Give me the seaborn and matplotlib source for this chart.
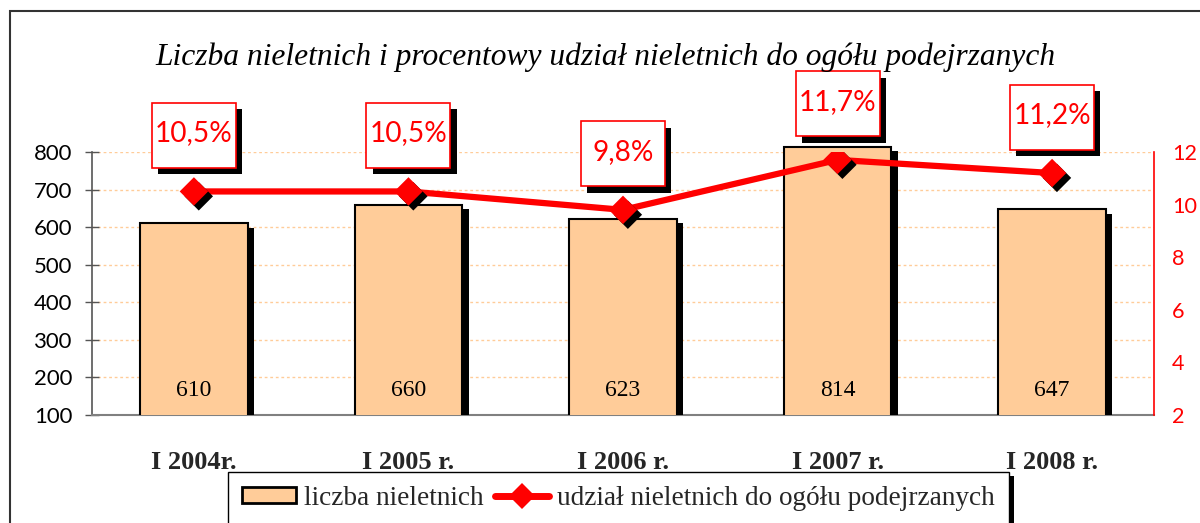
import numpy as np
import pandas as pd
import matplotlib
matplotlib.use("Agg")
import matplotlib.pyplot as plt
import matplotlib.patheffects as pe
import matplotlib.font_manager as fm
from matplotlib.patches import Patch, Rectangle
from matplotlib.lines import Line2D
from matplotlib.path import Path
import seaborn as sns

# ---------------- data ----------------
title = "Liczba nieletnich i procentowy udział nieletnich do ogółu podejrzanych"
categories = ["I 2004r.", "I 2005 r.", "I 2006 r.", "I 2007 r.", "I 2008 r."]
counts = [610, 660, 623, 814, 647]
shares = [10.5, 10.5, 9.8, 11.7, 11.2]
share_labels = ["10,5%", "10,5%", "9,8%", "11,7%", "11,2%"]
left_ticks = [100, 200, 300, 400, 500, 600, 700, 800]
right_ticks = [2, 4, 6, 8, 10, 12]
series_names = ["liczba nieletnich", "udział nieletnich do ogółu podejrzanych"]

BAR = "#FFCC99"
RED = "#FF0000"

sns.set_theme(style="white")
names = {f.name for f in fm.fontManager.ttflist}
if "Liberation Sans Narrow" in names:
    SANS, SANS_SCALE = "Liberation Sans Narrow", 1.0
else:
    SANS, SANS_SCALE = "Lato", 0.84
SERIF = "Liberation Serif"
plt.rcParams["font.family"] = [SERIF, "DejaVu Serif"]

df = pd.DataFrame({"cat": categories, "count": counts, "share": shares})

fig = plt.figure(figsize=(12, 5.23), dpi=100)
ax = fig.add_axes([92 / 1200, 1 - 415 / 523, (1154 - 92) / 1200, (415 - 152) / 523])

sns.barplot(data=df, x="cat", y="count", color=BAR, saturation=1,
            edgecolor="black", linewidth=1.5, width=0.5, ax=ax, zorder=3)
# clip bars only at the bottom (tall bars may rise above the top gridline)
clip_rect = Rectangle((0, 0), 1, 1.5, transform=ax.transAxes, visible=False)
ax.add_artist(clip_rect)
for p in ax.patches:
    if p is clip_rect:
        continue
    p.set_clip_path(clip_rect)
    p.set_path_effects([pe.SimplePatchShadow(offset=(4.8, -3.2), shadow_rgbFace="black", alpha=1),
                        pe.Normal()])

ax.set_ylim(left_ticks[0], left_ticks[-1])
ax.set_yticks(left_ticks)
ax.set_axisbelow(True)
ax.yaxis.grid(True, linestyle=(0, (2, 2)), color="#FFCC99", linewidth=1.0)
ax.xaxis.grid(False)
ax.set_xlabel("")
ax.set_ylabel("")
for s in ["top", "right"]:
    ax.spines[s].set_visible(False)
ax.spines["left"].set_color("#555555")
ax.spines["left"].set_linewidth(1.2)
ax.spines["bottom"].set_color("#808080")
ax.spines["bottom"].set_linewidth(1.5)
ax.tick_params(axis="y", direction="inout", length=10, width=1, color="#555555",
               labelsize=19 * SANS_SCALE, pad=9, labelcolor="black")
for lab in ax.get_yticklabels():
    lab.set_fontfamily(SANS)
ax.tick_params(axis="x", which="major", length=0, pad=26, labelsize=19)
xl = ax.get_xlim()
ax.set_xticks(list(xl), minor=True)
ax.tick_params(axis="x", which="minor", direction="out", length=6, width=1.2, color="black")
for lab in ax.get_xticklabels():
    lab.set_fontweight("bold")
    lab.set_fontfamily(SERIF)

# bar value labels near the base
for c, v in zip(categories, counts):
    ax.annotate(str(v), xy=(c, left_ticks[0]), xytext=(0, 25), textcoords="offset pixels",
                ha="center", va="center", fontsize=17, family=SERIF, color="black", zorder=5)

# ---------------- secondary axis ----------------
ax2 = ax.twinx()
sns.lineplot(data=df, x="cat", y="share", color=RED, linewidth=4.5, sort=False, ax=ax2, zorder=4)
sns.scatterplot(data=df, x="cat", y="share", color=RED, marker="D", s=210, linewidth=0,
                ax=ax2, zorder=5)
for coll in ax2.collections:
    coll.set_path_effects([pe.SimplePatchShadow(offset=(3.5, -3.5), shadow_rgbFace="black", alpha=1),
                           pe.Normal()])
ax2.set_ylim(right_ticks[0], right_ticks[-1])
ax2.set_yticks(right_ticks)
ax2.set_ylabel("")
ax2.set_xlabel("")
for s in ["top", "left", "bottom"]:
    ax2.spines[s].set_visible(False)
ax2.spines["right"].set_color(RED)
ax2.spines["right"].set_linewidth(1.2)
ax2.tick_params(axis="y", length=0, pad=13, labelsize=18.5 * SANS_SCALE, labelcolor=RED)
for lab in ax2.get_yticklabels():
    lab.set_fontfamily(SANS)

BOX_W, BOX_H = 84, 65  # label box size in pixels


def fixed_box(x0, y0, width, height, mutation_size):
    cx, cy = x0 + width / 2, y0 + height / 2 - 2
    w, h = BOX_W, BOX_H
    verts = [(cx - w / 2, cy - h / 2), (cx + w / 2, cy - h / 2), (cx + w / 2, cy + h / 2),
             (cx - w / 2, cy + h / 2), (cx - w / 2, cy - h / 2)]
    codes = [Path.MOVETO, Path.LINETO, Path.LINETO, Path.LINETO, Path.CLOSEPOLY]
    return Path(verts, codes)


for c, v, lab in zip(categories, shares, share_labels):
    t = ax2.annotate(lab, xy=(c, v), xytext=(0, 58), textcoords="offset pixels",
                     ha="center", va="center", fontsize=24 * SANS_SCALE, family=SANS, color=RED,
                     bbox=dict(boxstyle=fixed_box, facecolor="white", edgecolor=RED, linewidth=1.2),
                     zorder=6)
    t.get_bbox_patch().set_path_effects([
        pe.SimplePatchShadow(offset=(4.5, -4.5), shadow_rgbFace="black", alpha=1), pe.Normal()])

# ---------------- title ----------------
fig.text(605 / 1200, 1 - 57 / 523, title, ha="center", va="center", fontsize=22.7,
         style="italic", family=SERIF, color="black")

# ---------------- legend ----------------
handles = [Patch(facecolor=BAR, edgecolor="black", linewidth=2),
           Line2D([], [], color=RED, linewidth=5, marker="D", markersize=13, markeredgewidth=0)]
leg = fig.legend(handles, series_names, loc="upper left", bbox_to_anchor=(228 / 1200, 1 - 472 / 523),
                 ncol=2, frameon=True, fancybox=False, edgecolor="black", framealpha=1,
                 prop={"family": SERIF, "size": 19.6}, handlelength=2.0, handleheight=0.58,
                 handletextpad=0.3, columnspacing=0.4, borderpad=0.5, borderaxespad=0)
leg.get_frame().set_linewidth(1.0)
leg.get_frame().set_path_effects([
    pe.SimplePatchShadow(offset=(4, -3), shadow_rgbFace="black", alpha=1), pe.Normal()])

# ---------------- outer frame ----------------
fig.add_artist(Rectangle((10 / 1200, -0.05), 1.1, (523 - 11) / 523 + 0.05,
                         transform=fig.transFigure, fill=False, edgecolor="#333333", linewidth=1.5))

fig.savefig("out.png", dpi=100)
